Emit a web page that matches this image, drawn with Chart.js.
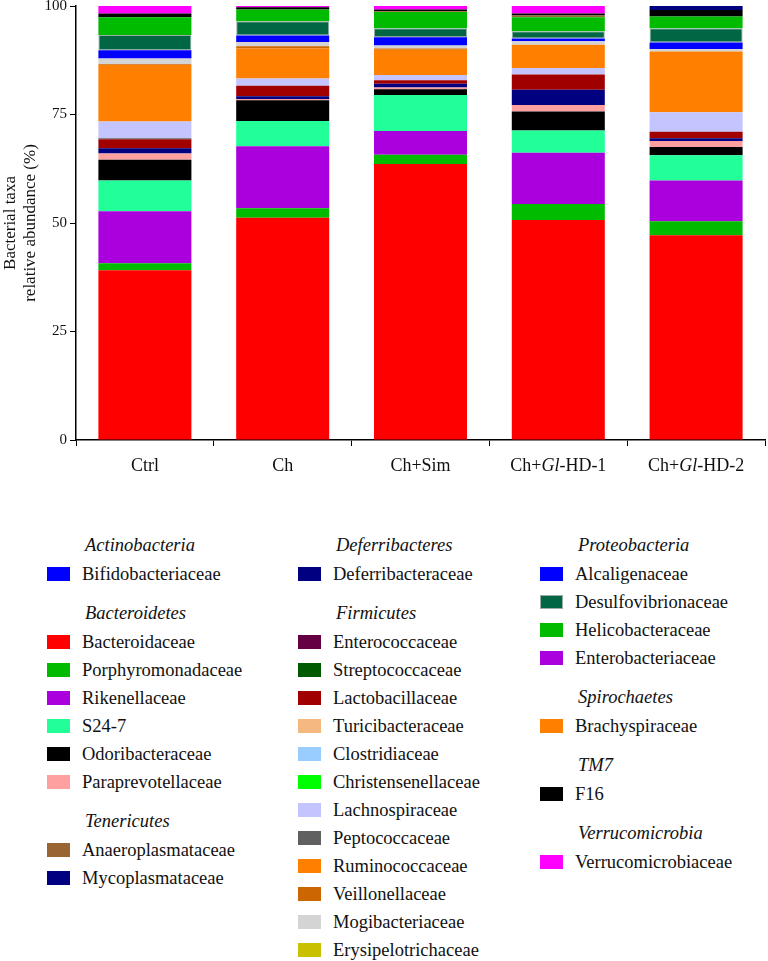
<!DOCTYPE html>
<html>
<head>
<meta charset="utf-8">
<script src="https://cdn.jsdelivr.net/npm/chart.js@4"></script>
<style>
    body { margin: 0; background: #fff; }
    #wrap { position: relative; width: 768px; height: 961px; overflow: hidden; font-family: 'Liberation Serif', 'DejaVu Serif', serif; color: #111; }
    #grafico { position: absolute; left: 0; top: -6px; }
    .coluna { position: absolute; top: 530px; }
    .filo { height: 30px; line-height: 30px; font-style: italic; font-size: 18.5px; padding-left: 38px; }
    .filo.seguinte { margin-top: 10px; }
    .item { height: 28px; line-height: 28px; font-size: 18.5px; display: flex; align-items: center; }
    .cor { width: 23px; height: 14px; margin-right: 12px; box-sizing: border-box; }
</style>
</head>
<body>
<div id="wrap">
    <canvas id="grafico" width="768" height="506"></canvas>
    <div id="legenda"></div>
</div>
<script>
(function () {
    var grupos = ['Ctrl', 'Ch', 'Ch+Sim', 'Ch+Gl-HD-1', 'Ch+Gl-HD-2'];

    // familias na ordem de empilhamento (de baixo para cima)
    var familias = [
        'Bacteroidaceae', 'Porphyromonadaceae', 'Rikenellaceae', 'S24-7', 'Odoribacteraceae',
        'Paraprevotellaceae', 'Deferribacteraceae', 'Enterococcaceae', 'Streptococcaceae',
        'Lactobacillaceae', 'Turicibacteraceae', 'Clostridiaceae', 'Christensenellaceae',
        'Peptococcaceae', 'Lachnospiraceae', 'Ruminococcaceae', 'Veillonellaceae',
        'Mogibacteriaceae', 'Erysipelotrichaceae', 'Bifidobacteriaceae', 'Alcaligenaceae',
        'Desulfovibrionaceae', 'Helicobacteraceae', 'Enterobacteriaceae', 'Brachyspiraceae',
        'Anaeroplasmataceae', 'F16', 'Mycoplasmataceae', 'Verrucomicrobiaceae'
    ];

    // abundancia relativa (%) por grupo, alinhada com familias
    var ctrl  = [39.1, 1.6, 12.0, 7.1, 4.8, 1.4, 1.2, 0, 0, 2.1, 0, 0, 0, 0.2, 3.9, 13.0, 0.2, 1.3, 0, 0, 1.9, 3.5, 4.1, 0, 0, 0, 0.9, 0, 1.7];
    var ch    = [51.2, 2.2, 14.3, 5.8, 4.8, 0.3, 0.6, 0, 0, 2.4, 0, 0, 0, 0, 1.7, 6.9, 0.5, 1.0, 0, 0, 1.5, 3.3, 2.7, 0, 0, 0, 0.5, 0, 0.3];
    var chSim = [63.6, 2.1, 5.5, 8.3, 1.3, 0.4, 0.9, 0, 0, 0.8, 0, 0, 0, 0, 1.2, 5.8, 0.3, 0.7, 0, 0, 1.9, 2.1, 3.7, 0, 0, 0.2, 0.4, 0, 0.8];
    var hd1   = [50.7, 3.7, 11.8, 5.1, 4.4, 1.5, 3.5, 0, 0, 3.5, 0, 0, 0, 0, 1.5, 5.4, 0, 0.8, 0, 0, 0.6, 1.7, 3.2, 0, 0, 0.4, 0.5, 0, 1.7];
    var hd2   = [47.2, 3.2, 9.4, 5.8, 1.9, 1.4, 0.6, 0, 0, 1.5, 0, 0, 0, 0, 4.5, 14.0, 0, 0.6, 0, 0, 1.5, 3.3, 2.7, 0, 0, 0, 1.5, 0.9, 0];

    var ticksY = [0, 25, 50, 75, 100];

    var cores = {
        'Bifidobacteriaceae': '#0000ff', 'Bacteroidaceae': '#ff0000', 'Porphyromonadaceae': '#00bb00',
        'Rikenellaceae': '#aa00dd', 'S24-7': '#22ff99', 'Odoribacteraceae': '#000000',
        'Paraprevotellaceae': '#ffa0a0', 'Anaeroplasmataceae': '#996633', 'Mycoplasmataceae': '#000080',
        'Deferribacteraceae': '#000080', 'Enterococcaceae': '#660044', 'Streptococcaceae': '#005a00',
        'Lactobacillaceae': '#a00000', 'Turicibacteraceae': '#f4b880', 'Clostridiaceae': '#99ccff',
        'Christensenellaceae': '#00ff00', 'Lachnospiraceae': '#c4c4ff', 'Peptococcaceae': '#606060',
        'Ruminococcaceae': '#ff8000', 'Veillonellaceae': '#cc6600', 'Mogibacteriaceae': '#d4d4d4',
        'Erysipelotrichaceae': '#c8c000', 'Alcaligenaceae': '#0000ff', 'Desulfovibrionaceae': '#006644',
        'Helicobacteraceae': '#00bb00', 'Enterobacteriaceae': '#aa00dd', 'Brachyspiraceae': '#ff8000',
        'F16': '#000000', 'Verrucomicrobiaceae': '#ff00ff'
    };

    var colunasLegenda = [
        [['Actinobacteria', ['Bifidobacteriaceae']],
         ['Bacteroidetes', ['Bacteroidaceae', 'Porphyromonadaceae', 'Rikenellaceae', 'S24-7', 'Odoribacteraceae', 'Paraprevotellaceae']],
         ['Tenericutes', ['Anaeroplasmataceae', 'Mycoplasmataceae']]],
        [['Deferribacteres', ['Deferribacteraceae']],
         ['Firmicutes', ['Enterococcaceae', 'Streptococcaceae', 'Lactobacillaceae', 'Turicibacteraceae', 'Clostridiaceae',
            'Christensenellaceae', 'Lachnospiraceae', 'Peptococcaceae', 'Ruminococcaceae', 'Veillonellaceae',
            'Mogibacteriaceae', 'Erysipelotrichaceae']]],
        [['Proteobacteria', ['Alcaligenaceae', 'Desulfovibrionaceae', 'Helicobacteraceae', 'Enterobacteriaceae']],
         ['Spirochaetes', ['Brachyspiraceae']],
         ['TM7', ['F16']],
         ['Verrucomicrobia', ['Verrucomicrobiaceae']]]
    ];
    var esquerdaColunas = [47, 298, 540];

    var fonteSerif = "'Liberation Serif', 'DejaVu Serif', serif";

    var datasets = familias.map(function (nome, i) {
        var borda = nome === 'Desulfovibrionaceae';
        return {
            label: nome,
            data: [ctrl[i], ch[i], chSim[i], hd1[i], hd2[i]],
            backgroundColor: cores[nome],
            borderColor: borda ? '#9aaea6' : cores[nome],
            borderWidth: borda ? 1 : 0,
            borderSkipped: false,
            categoryPercentage: 1,
            barPercentage: 0.675
        };
    });

    // rotulos do eixo x com "Gl" em italico
    var rotulosX = {
        id: 'rotulosX',
        afterDraw: function (chart) {
            var ctx = chart.ctx;
            var escala = chart.scales.x;
            ctx.save();
            ctx.fillStyle = '#111';
            ctx.textBaseline = 'middle';
            grupos.forEach(function (g, i) {
                var partes = g.indexOf('Gl') !== -1
                    ? [{ t: 'Ch+', it: false }, { t: 'Gl', it: true }, { t: g.slice(5), it: false }]
                    : [{ t: g, it: false }];
                var largura = 0;
                partes.forEach(function (p) {
                    ctx.font = (p.it ? 'italic ' : '') + '18px ' + fonteSerif;
                    p.w = ctx.measureText(p.t).width;
                    largura += p.w;
                });
                var x = escala.getPixelForValue(i) - largura / 2;
                partes.forEach(function (p) {
                    ctx.font = (p.it ? 'italic ' : '') + '18px ' + fonteSerif;
                    ctx.textAlign = 'left';
                    ctx.fillText(p.t, x, 472);
                    x += p.w;
                });
            });
            ctx.restore();
        }
    };

    new Chart(document.getElementById('grafico').getContext('2d'), {
        type: 'bar',
        data: { labels: grupos, datasets: datasets },
        options: {
            responsive: false,
            animation: false,
            layout: { padding: { top: 6, right: 3, left: 0, bottom: 0 } },
            plugins: { legend: { display: false }, tooltip: { enabled: false } },
            scales: {
                x: {
                    stacked: true,
                    grid: { display: true, drawOnChartArea: false, drawTicks: true, tickLength: 6, color: '#000' },
                    border: { color: '#000', width: 1.5 },
                    ticks: { display: false },
                    afterFit: function (s) { s.height = 60; }
                },
                y: {
                    stacked: true,
                    min: 0,
                    max: 100,
                    afterBuildTicks: function (s) {
                        s.ticks = ticksY.map(function (v) { return { value: v }; });
                    },
                    grid: { display: true, drawOnChartArea: false, drawTicks: true, tickLength: 6, color: '#000' },
                    border: { color: '#000', width: 1.5 },
                    ticks: { color: '#111', padding: 3, font: { family: fonteSerif, size: 15 } },
                    title: {
                        display: true,
                        text: ['Bacterial taxa', 'relative abundance (%)'],
                        color: '#111',
                        font: { family: fonteSerif, size: 17, lineHeight: 1.15 },
                        padding: { top: 1, bottom: 0 }
                    },
                    afterFit: function (s) { s.width = 76; }
                }
            }
        },
        plugins: [rotulosX]
    });

    function montarLegenda() {
        var legenda = document.getElementById('legenda');
        colunasLegenda.forEach(function (coluna, c) {
            var div = document.createElement('div');
            div.className = 'coluna';
            div.style.left = esquerdaColunas[c] + 'px';
            coluna.forEach(function (grupo, g) {
                var filo = document.createElement('div');
                filo.className = 'filo' + (g > 0 ? ' seguinte' : '');
                filo.textContent = grupo[0];
                div.appendChild(filo);
                grupo[1].forEach(function (nome) {
                    var item = document.createElement('div');
                    item.className = 'item';
                    var cor = document.createElement('span');
                    cor.className = 'cor';
                    cor.style.background = cores[nome];
                    if (nome === 'Desulfovibrionaceae') {
                        cor.style.border = '1px solid #9aaea6';
                    }
                    var texto = document.createElement('span');
                    texto.textContent = nome;
                    item.appendChild(cor);
                    item.appendChild(texto);
                    div.appendChild(item);
                });
            });
            legenda.appendChild(div);
        });
    }

    montarLegenda();
})();
</script>
</body>
</html>
